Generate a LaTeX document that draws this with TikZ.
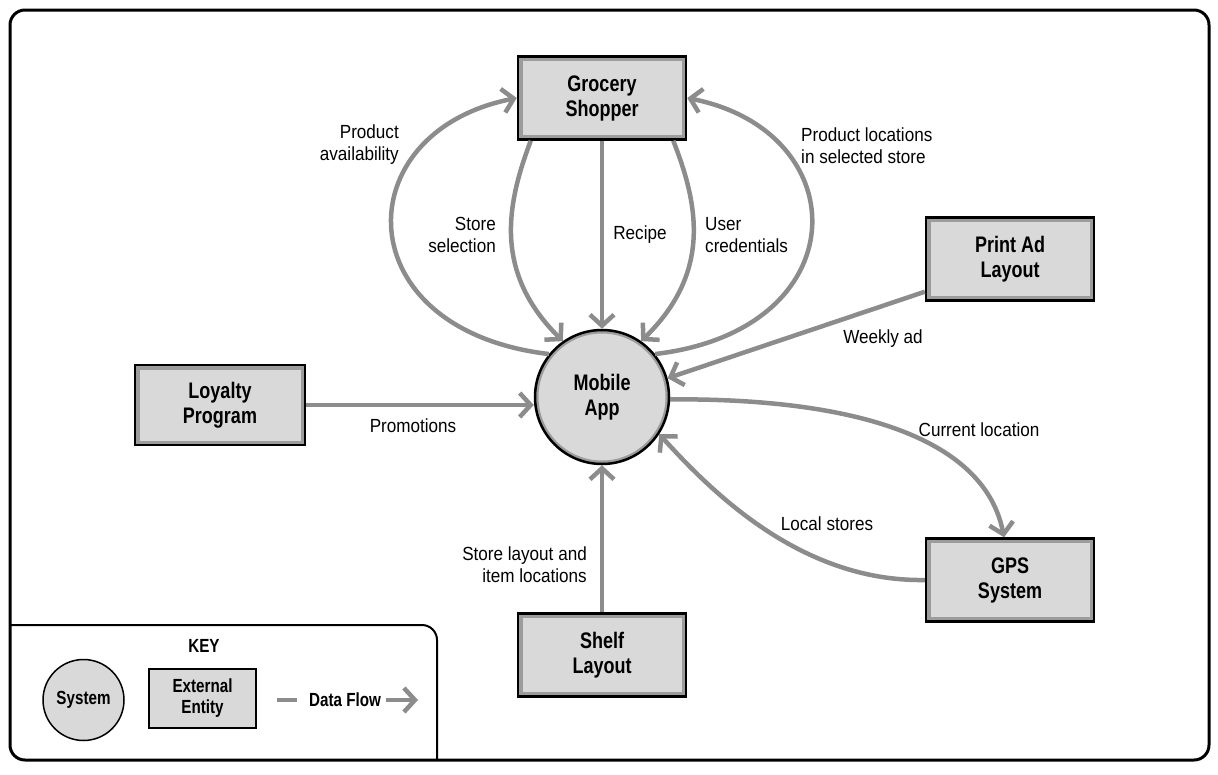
\documentclass[tikz,border=0pt]{standalone}
\usepackage{fontspec}
\setmainfont{Liberation Sans}[FakeStretch=0.9]
\newfontfamily\condbold{Liberation Sans}[FakeStretch=0.8]
\usetikzlibrary{arrows.meta,calc}
\definecolor{flow}{HTML}{8C8C8C}
\definecolor{boxfill}{HTML}{D9D9D9}
\definecolor{rim}{HTML}{9C9C9C}
\tikzset{
  entity/.style={draw=black, line width=2.5pt, fill=boxfill, minimum width=168pt, minimum height=83pt,
    align=center, inner sep=0pt, font=\condbold\bfseries\fontsize{22.5}{25}\selectfont,
    path picture={\draw[rim,line width=9pt] (path picture bounding box.south west) rectangle (path picture bounding box.north east);}},
  system/.style={circle, draw=black, line width=2.5pt, fill=boxfill, minimum size=134pt, inner sep=0pt,
    align=center, font=\condbold\bfseries\fontsize{22.5}{25}\selectfont,
    path picture={\draw[rim,line width=7pt] (path picture bounding box.center) circle[radius=67pt];}},
  flowline/.style={draw=flow, line width=4.5pt, -{Straight Barb[length=11pt,width=24pt]}},
  lbl/.style={font=\fontsize{19}{22}\selectfont, inner sep=0pt},
  keyfont/.style={font=\condbold\bfseries\fontsize{19}{21}\selectfont},
}
\begin{document}
\begin{tikzpicture}[x=1pt,y=-1pt]
\useasboundingbox (0,0) rectangle (1218,774);
% outer frame
\draw[line width=3pt, rounded corners=15pt] (10,10) rectangle (1209,760);

% nodes
\node[entity] (gs) at (602,98) {Grocery\\Shopper};
\node[system] (app) at (602,397) {Mobile\\App};
\node[entity] (pa) at (1010,259) {Print Ad\\Layout};
\node[entity, minimum width=170pt, minimum height=80pt] (lp) at (220,405) {Loyalty\\Program};
\node[entity] (gps) at (1010,580) {GPS\\System};
\node[entity] (sl) at (602,655) {Shelf\\Layout};

% flows
\draw[flowline] (app.141) .. controls (345,330) and (345,132) .. (gs.west);
\draw[flowline] (app.39) .. controls (858,330) and (858,132) .. (gs.east);
\draw[flowline] ($(gs.south west)+(14,0)$) .. controls (506,206) and (494,273) .. (app.125);
\draw[flowline] ($(gs.south east)+(-14,0)$) .. controls (699,206) and (711,273) .. (app.55);
\draw[flowline] (gs.south) -- (app.north);
\draw[flowline] ($(pa.south west)+(0,-10)$) -- (app.16);
\draw[flowline] (lp.east) -- (app.west |- lp.east);
\draw[flowline] (app.-2) .. controls (860,398) and (985,440) .. ($(gps.north)+(-6,0)$);
\draw[flowline] (gps.west) .. controls (800,582) and (710,490) .. (app.-33);
\draw[flowline] (sl.north) -- (app.south);

% labels
\node[lbl, anchor=east, align=right] (l1) at (399,145) {Product\\availability};
\node[lbl, anchor=east, align=right] (l2) at (496,235) {Store\\selection};
\node[lbl] (l3) at (640,235) {Recipe};
\node[lbl, anchor=west, align=left] (l4) at (705,235) {User\\credentials};
\node[lbl, anchor=west, align=left] (l5) at (801,146) {Product locations\\in selected store};
\node[lbl] (l6) at (883,339) {Weekly ad};
\node[lbl] (l7) at (413,426) {Promotions};
\node[lbl] (l8) at (979,430) {Current location};
\node[lbl] (l9) at (827,524) {Local stores};
\node[lbl, anchor=east, align=right] (l10) at (587,565) {Store layout and\\item locations};

% key
\draw[line width=2pt, rounded corners=15pt] (10,625) -- (437,625) -- (437,760);
\node[keyfont] (keyt) at (204,646) {KEY};
\node[circle, draw=black, line width=1.5pt, fill=boxfill, minimum size=81pt, inner sep=0pt, keyfont] (ksys) at (83.5,700) {System};
\node[draw=black, line width=1.5pt, fill=boxfill, minimum width=107pt, minimum height=59pt, inner sep=0pt, align=center, keyfont] (kext) at (202.5,698.5) {External\\Entity};
\node[keyfont] (kflow) at (345,700) {Data Flow};
\coordinate (kfa) at (277,700);
\coordinate (kfb) at (297,700);
\coordinate (kfc) at (386,700);
\coordinate (kfd) at (418,700);
\draw[draw=flow, line width=4.5pt] (kfa) -- (kfb);
\draw[flowline] (kfc) -- (kfd);
\end{tikzpicture}
\end{document}
